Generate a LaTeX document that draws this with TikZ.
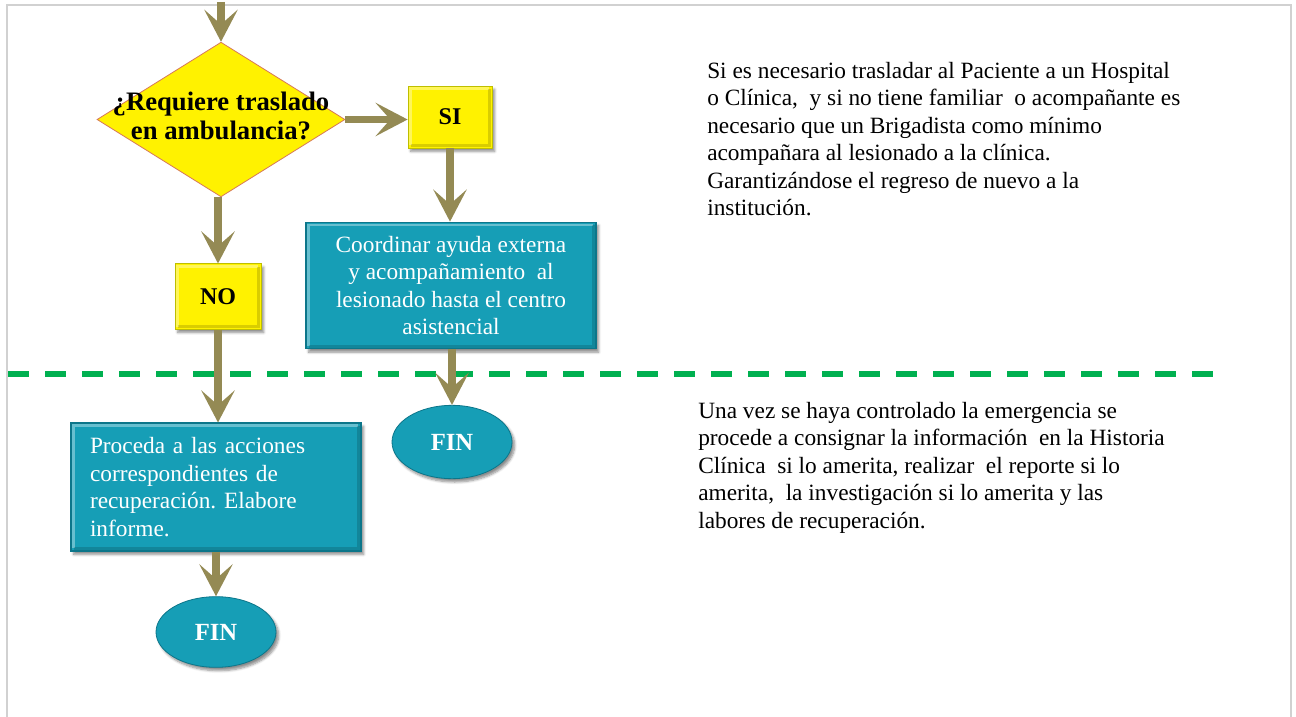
\documentclass[tikz,border=0pt]{standalone}
\usepackage{fontspec}
\setmainfont{Liberation Serif}
\usetikzlibrary{arrows.meta,shapes.geometric,shadows.blur}
\frenchspacing
\definecolor{olivearrow}{RGB}{148,138,84}
\definecolor{tealfill}{RGB}{22,158,182}
\definecolor{tealdraw}{RGB}{12,118,138}
\definecolor{dashgreen}{RGB}{0,176,80}
\definecolor{yellowdraw}{RGB}{190,190,0}
\definecolor{diadraw}{RGB}{214,120,90}
\tikzset{
  flow/.style={draw=olivearrow, line width=5.5pt, -{Stealth[length=24pt,width=25pt,inset=11pt]}},
  bevel/.style={path picture={
    \draw[white, opacity=.35, line width=2pt]
      ([shift={(2pt,2pt)}]path picture bounding box.south west) |- ([shift={(-2pt,-2pt)}]path picture bounding box.north east);
    \draw[black, opacity=.15, line width=2pt]
      ([shift={(2pt,2pt)}]path picture bounding box.south west) -| ([shift={(-2pt,-2pt)}]path picture bounding box.north east);}},
  ybox/.style={rectangle, fill=yellow, draw=yellowdraw, line width=0.6pt, bevel,
    blur shadow={shadow xshift=2pt, shadow yshift=-2.5pt, shadow blur steps=6, shadow opacity=45},
    font=\fontsize{18}{21}\selectfont\bfseries, inner sep=0pt},
  tbox/.style={rectangle, fill=tealfill, draw=tealdraw, line width=0.8pt, bevel,
    blur shadow={shadow xshift=2pt, shadow yshift=-2.5pt, shadow blur steps=6, shadow opacity=45},
    text=white, font=\fontsize{17.5}{20.6}\selectfont},
  finnode/.style={ellipse, fill=tealfill, draw=tealdraw, line width=0.6pt,
    blur shadow={shadow xshift=2pt, shadow yshift=-2.5pt, shadow blur steps=6, shadow opacity=45},
    text=white, font=\fontsize{18.5}{21}\selectfont\bfseries,
    minimum width=90pt, minimum height=55pt, inner sep=0pt},
  dia/.style={diamond, fill=yellow, draw=diadraw, line width=0.6pt, inner sep=0pt,
    minimum width=186pt, minimum height=116pt,
    font=\fontsize{20}{21.75}\selectfont\bfseries},
  note/.style={anchor=north west, inner sep=0pt, align=left,
    font=\fontsize{17.5}{20.6}\selectfont},
  pageline/.style={draw=black!18, line width=1.2pt}
}
\begin{document}
\begin{tikzpicture}[x=0.75pt,y=-0.75pt]
\useasboundingbox (0,0) rectangle (1296,717);
% page frame
\draw[pageline] (7,717) -- (7,5) -- (1291,5) -- (1291,717);
% separator
\draw[dashgreen, line width=3.9pt, dash pattern=on 15.75pt off 12pt] (8,374) -- (1218,374);

% nodes
\coordinate (top) at (221,2);
\node[dia] (d) at (221,119.5) {\raisebox{-3pt}{\makebox[0pt]{\begin{tabular}{@{}c@{}}¿Requiere traslado\\en ambulancia?\end{tabular}}}};
\node[ybox, minimum width=63pt, minimum height=46.5pt] (si) at (450,117) {SI};
\node[ybox, minimum width=64.5pt, minimum height=49pt] (no) at (218,296.5) {NO};
\node[tbox, minimum width=217.5pt, minimum height=95pt, align=center, inner sep=0pt] (co) at (451,285.5)
  {Coordinar ayuda externa\\y acompañamiento~ al\\lesionado hasta el centro\\asistencial};
\node[finnode] (fin1) at (452,442) {FIN};
\node[tbox, minimum width=217.5pt, minimum height=96pt, text width=189pt, align=left, inner xsep=14.25pt, inner ysep=0pt] (pr) at (216,487)
  {Proceda a las acciones\\correspondientes de\\recuperación. Elabore\\informe.};
\node[finnode, minimum height=53pt] (fin2) at (216,632) {FIN};

% notes
\node[note] (n1) at (707,62) {Si es necesario trasladar al Paciente a un Hospital\\o Clínica,~ y si no tiene familiar~ o acompañante es\\necesario que un Brigadista como mínimo\\acompañara al lesionado a la clínica.\\Garantizándose el regreso de nuevo a la\\institución.};
\node[note] (n2) at (698,402) {Una vez se haya controlado la emergencia se\\procede a consignar la información~ en la Historia\\Clínica~ si lo amerita, realizar~ el reporte si lo\\amerita,~ la investigación si lo amerita y las\\labores de recuperación.};

% connectors
\draw[flow] (top) -- (d.north);
\draw[flow] (d.east) -- (si.west |- d.east);
\draw[flow] (si.south) -- (si.south |- co.north);
\draw[flow] (no.north |- d.south) -- (no.north);
\draw[flow] (co.south -| fin1.north) -- (fin1.north);
\draw[flow] (no.south) -- (no.south |- pr.north);
\draw[flow] (pr.south) -- (fin2.north);
\end{tikzpicture}
\end{document}
